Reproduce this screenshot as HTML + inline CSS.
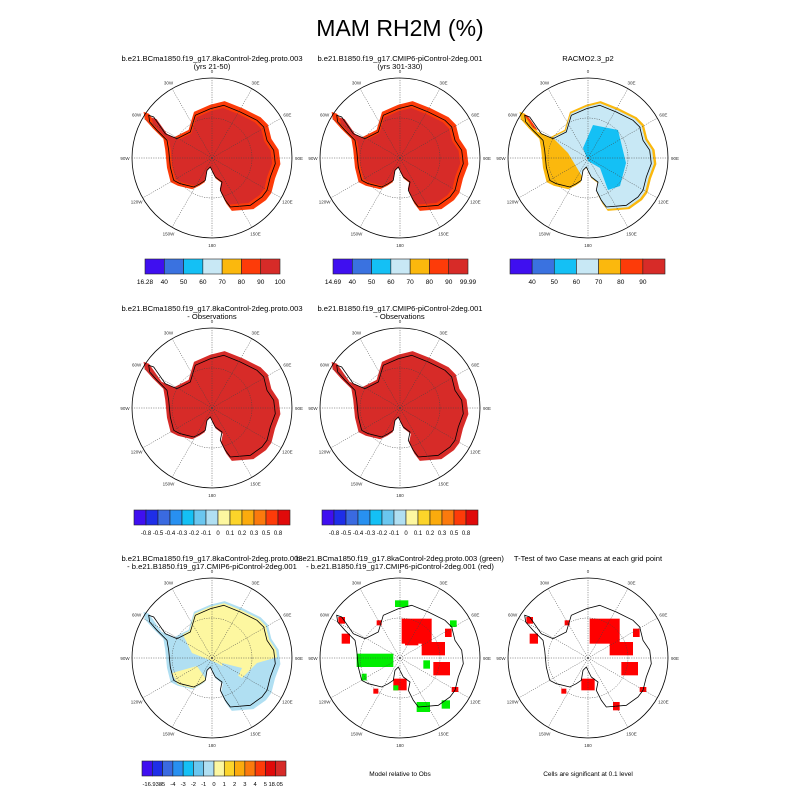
<!DOCTYPE html>
<html><head><meta charset="utf-8"><style>
html,body{margin:0;padding:0;background:#fff}
svg{display:block;font-family:"Liberation Sans",sans-serif}
</style></head><body>
<svg id="c" width="800" height="800" viewBox="0 0 800 800">
<defs id="defs"></defs>
<text x="400" y="36" font-size="23" text-anchor="middle">MAM RH2M (%)</text>
</svg>
<script>
// ---- data arrays ----
const absColors=["#3f0ff0","#3a72e0","#14c0f5","#c8e8f5","#fbb80d","#fd3b09","#d72b28"];
const absLabels1=["16.28","40","50","60","70","80","90","100"];
const absLabels2=["14.69","40","50","60","70","80","90","99.99"];
const absLabels3=["","40","50","60","70","80","90",""];
const difColors=["#3f0ff0","#1e2ee8","#3a6ae0","#2890f0","#14c0f5","#6ac6ef","#b0dff2","#fdf7a0","#fcd42a","#fbab0d","#fb7a0d","#fd3b09","#e00a0a","#d72b28"];
const difLabels2=["-0.8","-0.5","-0.4","-0.3","-0.2","-0.1","0","0.1","0.2","0.3","0.5","0.8"];
const difLabels3=["-16.938","-5","-4","-3","-2","-1","0","1","2","3","4","5","18.05"];
const lonLabels=["0","30E","60E","90E","120E","150E","180","150W","120W","90W","60W","30W"];
const coast=[[115,195],[130,200],[165,250],[200,265],[240,245],[255,195],[300,175],[340,165],[390,185],[440,210],[460,230],[470,270],[490,300],[495,340],[480,380],[470,420],[455,440],[420,465],[360,470],[345,450],[330,420],[335,395],[315,380],[300,350],[290,360],[285,390],[270,400],[250,410],[210,400],[190,390],[180,350],[175,300],[170,270],[140,240],[118,215]];
const redPatches=[[310,205,90,75],[370,275,70,40],[405,335,50,40],[120,200,20,20],[130,250,25,30],[440,235,20,25],[285,385,40,35],[235,210,15,15],[460,410,20,15],[225,415,15,15],[320,270,40,15]];
const greenPatches=[[290,150,40,20],[175,310,110,40],[455,210,20,20],[430,450,25,25],[355,455,40,30],[375,330,20,25],[190,370,15,20],[285,405,15,15]];
const redPatches2=[[310,205,90,75],[370,275,70,40],[405,335,50,40],[120,200,20,20],[130,250,25,30],[440,235,20,25],[285,385,40,35],[235,210,15,15],[460,410,20,15],[225,415,15,15],[380,455,20,25]];

const NS="http://www.w3.org/2000/svg";
const svg=document.getElementById('c');
const defs=document.getElementById('defs');
const R=80;
function el(t,a,p){const e=document.createElementNS(NS,t);for(const k in a)e.setAttribute(k,a[k]);(p||svg).appendChild(e);return e;}
function coastPath(cx,cy,s){return "M"+coast.map(p=>[(cx+(p[0]-305)/240*R*s).toFixed(1),(cy+(p[1]-323)/240*R*s).toFixed(1)].join(",")).join("L")+"Z";}
function patchX(cx,v){return cx+(v-305)/240*R;}
function patchY(cy,v){return cy+(v-323)/240*R;}

function panel(id,cx,cy,kind,t1,t2){
  const g=el('g',{});
  
  
  const cp=el('clipPath',{id:'clip-'+id},defs);
  el('path',{d:coastPath(cx,cy,1.04)},cp);
  if(t1){const t=el('text',{x:cx,y:cy-97,'font-size':7.6,'text-anchor':'middle'},g);t.textContent=t1;
    }
  if(t2){const t=el('text',{x:cx,y:cy-89,'font-size':7.6,'text-anchor':'middle'},g);t.textContent=t2;
    }
  el('circle',{cx:cx,cy:cy,r:R,fill:'#fff'},g);
  if(kind==='abs'){
    el('path',{d:coastPath(cx,cy,1.08),fill:'#fd3b09'},g);
    el('path',{d:coastPath(cx,cy,0.95),fill:'#d72b28'},g);
  }else if(kind==='absrac'){
    el('path',{d:coastPath(cx,cy,1.08),fill:'#fbb80d'},g);
    const ig=el('g',{'clip-path':'url(#clip-'+id+')'},g);
    el('path',{d:`M${cx-25},${cy-70}L${cx+80},${cy-70}L${cx+80},${cy+80}L${cx+5},${cy+80}L${cx-5},${cy+20}L${cx-20},${cy-5}L${cx-35},${cy-20}Z`,fill:'#c8e8f5'},ig);
    el('path',{d:`M${cx+5},${cy-33}L${cx+30},${cy-28}L${cx+38},${cy+5}L${cx+32},${cy+28}L${cx+20},${cy+32}L${cx+12},${cy+10}L${cx},${cy+3}L${cx-5},${cy-10}Z`,fill:'#14c0f5'},ig);
    el('path',{d:`M${cx-65},${cy-45}L${cx-50},${cy-40}L${cx-45},${cy-25}L${cx-55},${cy-30}Z`,fill:'#fd3b09'},ig);
  }else if(kind==='bias'){
    el('path',{d:coastPath(cx,cy,1.08),fill:'#d72b28'},g);
  }else if(kind==='diff'){
    el('path',{d:coastPath(cx,cy,1.08),fill:'#b0dff2'},g);
    const ig=el('g',{'clip-path':'url(#clip-'+id+')'},g);
    el('path',{d:`M${cx-35},${cy-70}L${cx+80},${cy-70}L${cx+80},${cy-5}L${cx+45},${cy+5}L${cx+30},${cy+20}L${cx+5},${cy+5}L${cx-20},${cy-5}L${cx-30},${cy-25}Z`,fill:'#fdf7a0'},ig);
    el('path',{d:`M${cx-40},${cy+15}L${cx-15},${cy+8}L${cx},${cy+30}L${cx-30},${cy+35}Z`,fill:'#fdf7a0'},ig);
    el('path',{d:`M${cx+10},${cy+5}L${cx+30},${cy+10}L${cx+25},${cy+20}L${cx+12},${cy+18}Z`,fill:'#b0dff2'},ig);
  }else if(kind==='sig'||kind==='ttest'){
    const rp=kind==='sig'?redPatches:redPatches2;
    rp.forEach((p,i)=>{const r=el('rect',{x:patchX(cx,p[0]),y:patchY(cy,p[1]),width:p[2]/240*R,height:p[3]/240*R,fill:'#ff0000'},g);
      });
    if(kind==='sig')greenPatches.forEach(p=>{const r=el('rect',{x:patchX(cx,p[0]),y:patchY(cy,p[1]),width:p[2]/240*R,height:p[3]/240*R,fill:'#00ee00'},g);
      });
  }
  el('path',{d:coastPath(cx,cy,1),fill:'none',stroke:'#000','stroke-width':0.8},g);
  for(let i=0;i<12;i++){const a=i*30*Math.PI/180;
    el('line',{x1:cx,y1:cy,x2:cx+R*Math.sin(a),y2:cy-R*Math.cos(a),stroke:'#444','stroke-width':0.5,'stroke-dasharray':'1.2,1.2'},g);
    const lx=cx+(R+7)*Math.sin(a),ly=cy-(R+7)*Math.cos(a)+2;
    const t=el('text',{x:lx,y:ly,'font-size':4.5,'text-anchor':'middle',fill:'#333'},g);t.textContent=lonLabels[i];
    }
  el('circle',{cx:cx,cy:cy,r:R*0.5,fill:'none',stroke:'#444','stroke-width':0.5,'stroke-dasharray':'1.2,1.2'},g);
  el('circle',{cx:cx,cy:cy,r:R,fill:'none',stroke:'#000','stroke-width':0.8},g);
}
function colorbar(id,x,y,w,h,cols,labels,edges,fs){
  const g=el('g',{});
  
  
  const bw=w/cols.length;
  cols.forEach((c,i)=>{const r=el('rect',{x:x+i*bw,y:y,width:bw,height:h,fill:c,stroke:'#222','stroke-width':0.6},g);
    });
  labels.forEach((l,i)=>{const k=edges?i:i+1;const t=el('text',{x:x+k*bw,y:y+h+10,'font-size':fs||6.5,'text-anchor':'middle'},g);t.textContent=l;
    });
}
const C=[212,400,588], Y=[158,408,658];
panel('r1c1',C[0],Y[0],'abs','b.e21.BCma1850.f19_g17.8kaControl-2deg.proto.003','(yrs 21-50)');
panel('r1c2',C[1],Y[0],'abs','b.e21.B1850.f19_g17.CMIP6-piControl-2deg.001','(yrs 301-330)');
panel('r1c3',C[2],Y[0],'absrac','RACMO2.3_p2',null);
colorbar('r1c1',145,259,135,15,absColors,absLabels1,true);
colorbar('r1c2',333,259,135,15,absColors,absLabels2,true);
colorbar('r1c3',510,259,155,15,absColors,absLabels3,true);
panel('r2c1',C[0],Y[1],'bias','b.e21.BCma1850.f19_g17.8kaControl-2deg.proto.003','- Observations');
panel('r2c2',C[1],Y[1],'bias','b.e21.B1850.f19_g17.CMIP6-piControl-2deg.001','- Observations');
colorbar('r2c1',134,510,156,15,difColors.slice(0,13),difLabels2,false,6);
colorbar('r2c2',322,510,156,15,difColors.slice(0,13),difLabels2,false,6);
panel('r3c1',C[0],Y[2],'diff','b.e21.BCma1850.f19_g17.8kaControl-2deg.proto.003','- b.e21.B1850.f19_g17.CMIP6-piControl-2deg.001');
panel('r3c2',C[1],Y[2],'sig','b.e21.BCma1850.f19_g17.8kaControl-2deg.proto.003 (green)','- b.e21.B1850.f19_g17.CMIP6-piControl-2deg.001 (red)');
panel('r3c3',C[2],Y[2],'ttest','T-Test of two Case means at each grid point',null);
colorbar('r3c1',142,761,144,15,difColors,difLabels3,false,5.8);
const n1=el('text',{x:400,y:776,'font-size':6.5,'text-anchor':'middle'});n1.textContent='Model relative to Obs';


const n2=el('text',{x:588,y:776,'font-size':6.5,'text-anchor':'middle'});n2.textContent='Cells are significant at 0.1 level';


</script>
</body></html>
